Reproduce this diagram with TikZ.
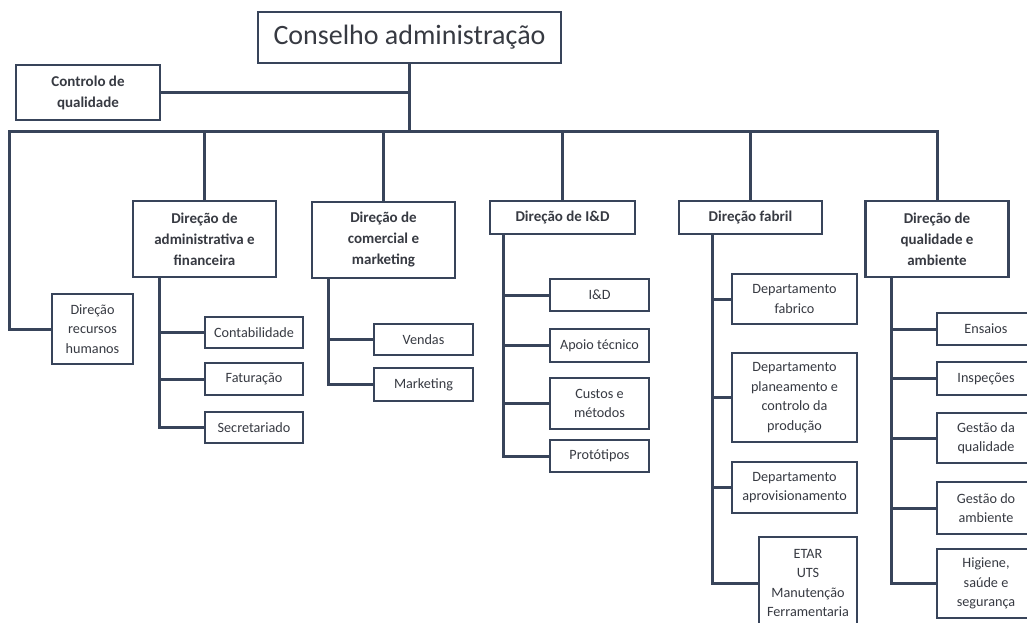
\documentclass[tikz,border=0pt]{standalone}
\usepackage{fontspec}
\setmainfont{Carlito}
\definecolor{linec}{RGB}{56,68,90}
\definecolor{textc}{RGB}{55,58,66}
\begin{document}
\begin{tikzpicture}[x=1pt,y=-1pt,
  box/.style={draw=linec, line width=2.2pt, fill=white, inner sep=0pt, align=center, text=textc},
  head/.style={box, font=\bfseries\fontsize{15}{21}\selectfont},
  leaf/.style={box, font=\fontsize{14.2}{19.5}\selectfont},
  conn/.style={draw=linec, line width=3pt}]
\useasboundingbox (0,0) rectangle (1027,623);
\clip (0,0) rectangle (1027,623);

% top level
\node[box, font=\fontsize{28}{30}\selectfont, minimum width=303, minimum height=51] (top) at (409.5,37.5) {Conselho administração};
\node[head, minimum width=144, minimum height=55] (cq) at (88,92.5) {Controlo de\\qualidade};

% directions
\node[leaf, minimum width=81, minimum height=70] (rh) at (92.5,329) {Direção\\recursos\\humanos};
\node[head, minimum width=143, minimum height=76] (adm) at (204.5,239) {Direção de\\administrativa e\\financeira};
\node[head, minimum width=143, minimum height=76] (com) at (383.5,240) {Direção de\\comercial e\\marketing};
\node[head, minimum width=145, minimum height=33] (id) at (562.5,217.5) {Direção de I\&D};
\node[head, minimum width=143, minimum height=33] (fab) at (750.5,217.5) {Direção fabril};
\node[head, minimum width=143, minimum height=76] (qa) at (937,239) {Direção de\\qualidade e\\ambiente};

% administrative and financial
\node[leaf, minimum width=98, minimum height=31] (cont) at (254,332.5) {Contabilidade};
\node[leaf, minimum width=98, minimum height=32] (fat) at (254,379) {Faturação};
\node[leaf, minimum width=98, minimum height=31] (sec) at (254,427.5) {Secretariado};

% commercial and marketing
\node[leaf, minimum width=99, minimum height=31] (ven) at (423.5,339.5) {Vendas};
\node[leaf, minimum width=99, minimum height=33] (mkt) at (423.5,384.5) {Marketing};

% R&D
\node[leaf, minimum width=99, minimum height=32] (idd) at (599.5,295) {I\&D};
\node[leaf, minimum width=99, minimum height=33] (apo) at (599.5,345.5) {Apoio técnico};
\node[leaf, minimum width=99, minimum height=51] (cus) at (599.5,403.5) {Custos e\\métodos};
\node[leaf, minimum width=99, minimum height=32] (pro) at (599.5,456) {Protótipos};

% factory
\node[leaf, minimum width=125, minimum height=50] (dfab) at (794.5,299) {Departamento\\fabrico};
\node[leaf, minimum width=125, minimum height=89] (dpla) at (794.5,397.5) {Departamento\\planeamento e\\controlo da\\produção};
\node[leaf, minimum width=125, minimum height=51] (dapr) at (794.5,487.5) {Departamento\\aprovisionamento};
\node[leaf, minimum width=98, minimum height=92] (etar) at (808,583) {ETAR\\UTS\\Manutenção\\Ferramentaria};

% quality and environment
\node[leaf, minimum width=98, minimum height=32] (ens) at (986,329) {Ensaios};
\node[leaf, minimum width=98, minimum height=33] (ins) at (986,378.5) {Inspeções};
\node[leaf, minimum width=98, minimum height=50] (gq) at (986,438) {Gestão da\\qualidade};
\node[leaf, minimum width=98, minimum height=52] (ga) at (986,508) {Gestão do\\ambiente};
\node[leaf, minimum width=98, minimum height=69] (hig) at (986,583.5) {Higiene,\\saúde e\\segurança};

% main bus
\coordinate (busL) at (9,131);
\draw[conn] (top.south) -- (top.south |- busL);
\draw[conn] (cq.east) -- (cq.east -| top.south);
\draw[conn] (rh.west) -- (rh.west -| busL) -- (busL) -- (busL -| qa.north) -- (qa.north);
\foreach \n in {adm,com,id,fab}
  \draw[conn] (busL -| \n.north) -- (\n.north);

% sub-trees
\coordinate (admS) at ([xshift=28pt]adm.south west);
\draw[conn] (admS) -- (admS |- sec.west) -- (sec.west);
\foreach \c in {cont,fat} \draw[conn] (admS |- \c.west) -- (\c.west);

\coordinate (comS) at ([xshift=18pt]com.south west);
\draw[conn] (comS) -- (comS |- mkt.west) -- (mkt.west);
\draw[conn] (comS |- ven.west) -- (ven.west);

\coordinate (idS) at ([xshift=15pt]id.south west);
\draw[conn] (idS) -- (idS |- pro.west) -- (pro.west);
\foreach \c in {idd,apo,cus} \draw[conn] (idS |- \c.west) -- (\c.west);

\coordinate (fabS) at ([xshift=35pt]fab.south west);
\draw[conn] (fabS) -- (fabS |- etar.west) -- (etar.west);
\foreach \c in {dfab,dpla,dapr} \draw[conn] (fabS |- \c.west) -- (\c.west);

\coordinate (qaS) at ([xshift=27pt]qa.south west);
\draw[conn] (qaS) -- (qaS |- hig.west) -- (hig.west);
\foreach \c in {ens,ins,gq,ga} \draw[conn] (qaS |- \c.west) -- (\c.west);
\end{tikzpicture}
\end{document}
